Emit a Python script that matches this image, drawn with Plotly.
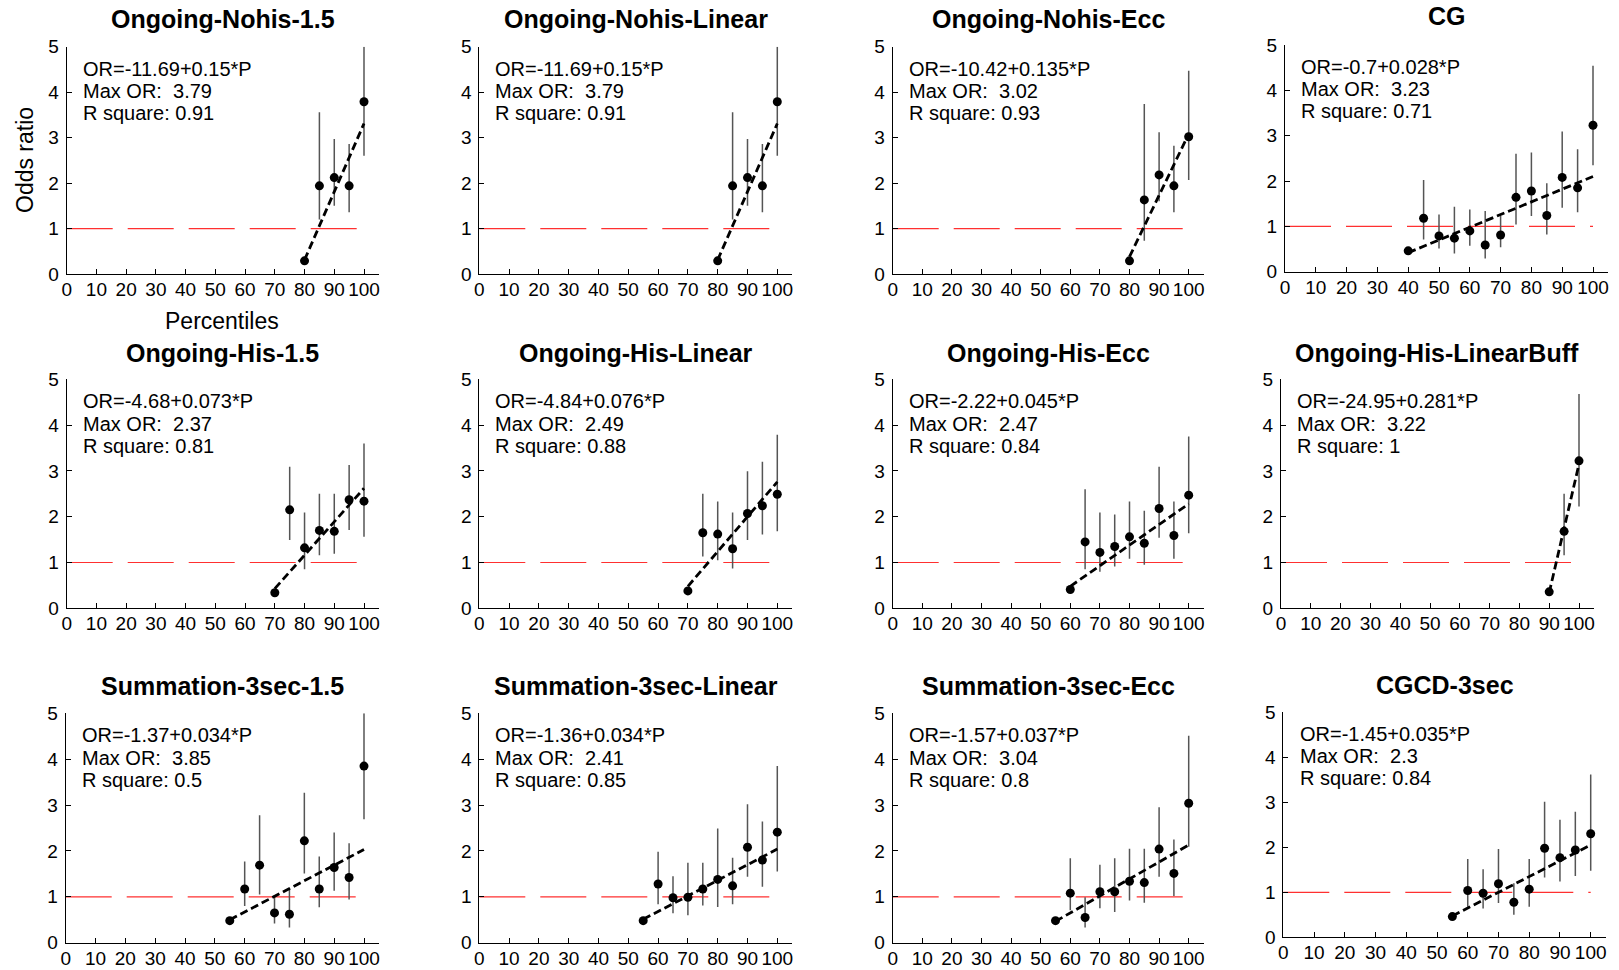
import plotly.graph_objects as go

FONT = "Liberation Sans, Arial, Helvetica, sans-serif"
W, H = 1619, 970

# ---------------- data ----------------
TITLES = [
    "Ongoing-Nohis-1.5", "Ongoing-Nohis-Linear", "Ongoing-Nohis-Ecc", "CG",
    "Ongoing-His-1.5", "Ongoing-His-Linear", "Ongoing-His-Ecc", "Ongoing-His-LinearBuff",
    "Summation-3sec-1.5", "Summation-3sec-Linear", "Summation-3sec-Ecc", "CGCD-3sec",
]

PCT_NOHIS = [80, 85, 90, 95, 100]
OR_NOHIS_15 = [0.29, 1.94, 2.12, 1.94, 3.79]
LO_NOHIS_15 = [None, 1.20, 1.50, 1.36, 2.60]
HI_NOHIS_15 = [None, 3.56, 2.97, 2.86, 5.00]

OR_NOHIS_LIN = [0.29, 1.94, 2.12, 1.94, 3.79]
LO_NOHIS_LIN = [None, 1.20, 1.50, 1.36, 2.60]
HI_NOHIS_LIN = [None, 3.56, 2.97, 2.86, 5.00]

OR_NOHIS_ECC = [0.29, 1.63, 2.18, 1.94, 3.02]
LO_NOHIS_ECC = [None, 0.73, 1.60, 1.36, 2.07]
HI_NOHIS_ECC = [None, 3.74, 3.12, 2.82, 4.47]

PCT_CG = [40, 45, 50, 55, 60, 65, 70, 75, 80, 85, 90, 95, 100]
OR_CG = [0.46, 1.18, 0.79, 0.74, 0.90, 0.59, 0.81, 1.64, 1.78, 1.24, 2.08, 1.85, 3.23]
LO_CG = [None, 0.71, 0.51, 0.40, 0.57, 0.29, 0.54, 1.04, 1.23, 0.82, 1.41, 1.31, 2.35]
HI_CG = [None, 2.02, 1.26, 1.43, 1.37, 1.34, 1.23, 2.60, 2.63, 1.95, 3.09, 2.70, 4.54]

PCT_HIS = [70, 75, 80, 85, 90, 95, 100]
OR_HIS_15 = [0.34, 2.15, 1.32, 1.70, 1.68, 2.37, 2.34]
LO_HIS_15 = [None, 1.49, 0.85, 1.16, 1.19, 1.71, 1.56]
HI_HIS_15 = [None, 3.09, 2.09, 2.50, 2.50, 3.13, 3.60]

OR_HIS_LIN = [0.38, 1.65, 1.62, 1.30, 2.07, 2.24, 2.49]
LO_HIS_LIN = [None, 1.13, 1.05, 0.87, 1.49, 1.61, 1.68]
HI_HIS_LIN = [None, 2.50, 2.33, 2.09, 2.99, 3.20, 3.79]

PCT_HIS_ECC = [60, 65, 70, 75, 80, 85, 90, 95, 100]
OR_HIS_ECC = [0.41, 1.45, 1.22, 1.35, 1.56, 1.42, 2.18, 1.59, 2.47]
LO_HIS_ECC = [None, 0.85, 0.80, 0.91, 1.08, 0.95, 1.54, 1.08, 1.64]
HI_HIS_ECC = [None, 2.60, 2.09, 2.05, 2.33, 2.13, 3.09, 2.33, 3.75]

PCT_HIS_BUFF = [90, 95, 100]
OR_HIS_BUFF = [0.36, 1.68, 3.22]
LO_HIS_BUFF = [None, 1.16, 2.22]
HI_HIS_BUFF = [None, 2.50, 4.68]

PCT_SUM = [55, 60, 65, 70, 75, 80, 85, 90, 95, 100]
OR_SUM_15 = [0.48, 1.17, 1.69, 0.65, 0.62, 2.22, 1.17, 1.64, 1.42, 3.85]
LO_SUM_15 = [None, 0.80, 1.05, 0.42, 0.33, 1.51, 0.77, 1.13, 0.94, 2.69]
HI_SUM_15 = [None, 1.77, 2.78, 1.04, 1.18, 3.27, 1.88, 2.40, 2.17, 5.00]

OR_SUM_LIN = [0.48, 1.28, 0.98, 0.99, 1.17, 1.38, 1.24, 2.08, 1.80, 2.41]
LO_SUM_LIN = [None, 0.84, 0.64, 0.60, 0.81, 0.78, 0.84, 1.44, 1.22, 1.55]
HI_SUM_LIN = [None, 1.98, 1.45, 1.74, 1.74, 2.49, 1.85, 3.02, 2.64, 3.85]

OR_SUM_ECC = [0.48, 1.08, 0.55, 1.11, 1.11, 1.34, 1.31, 2.04, 1.51, 3.04]
LO_SUM_ECC = [None, 0.71, 0.33, 0.75, 0.67, 0.92, 0.87, 1.44, 1.02, 2.09]
HI_SUM_ECC = [None, 1.84, 0.99, 1.70, 1.84, 2.05, 2.05, 2.95, 2.25, 4.51]

OR_CGCD = [0.46, 1.04, 0.98, 1.19, 0.78, 1.07, 1.98, 1.77, 1.94, 2.30]
LO_CGCD = [None, 0.68, 0.64, 0.76, 0.50, 0.68, 1.33, 1.24, 1.36, 1.48]
HI_CGCD = [None, 1.74, 1.51, 1.96, 1.20, 1.74, 3.01, 2.61, 2.79, 3.62]

# linear fit OR = a + b*P for each panel
INTERCEPT = [-11.69, -11.69, -10.42, -0.7, -4.68, -4.84, -2.22, -24.95, -1.37, -1.36, -1.57, -1.45]
SLOPE = [0.15, 0.15, 0.135, 0.028, 0.073, 0.076, 0.045, 0.281, 0.034, 0.034, 0.037, 0.035]
MAX_OR = [3.79, 3.79, 3.02, 3.23, 2.37, 2.49, 2.47, 3.22, 3.85, 2.41, 3.04, 2.3]
R_SQUARE = [0.91, 0.91, 0.93, 0.71, 0.81, 0.88, 0.84, 1, 0.5, 0.85, 0.8, 0.84]

X_TICKS = [0, 10, 20, 30, 40, 50, 60, 70, 80, 90, 100]
Y_TICKS = [0, 1, 2, 3, 4, 5]
REFERENCE_OR = 1

PANELS = [
    (PCT_NOHIS, OR_NOHIS_15, LO_NOHIS_15, HI_NOHIS_15),
    (PCT_NOHIS, OR_NOHIS_LIN, LO_NOHIS_LIN, HI_NOHIS_LIN),
    (PCT_NOHIS, OR_NOHIS_ECC, LO_NOHIS_ECC, HI_NOHIS_ECC),
    (PCT_CG, OR_CG, LO_CG, HI_CG),
    (PCT_HIS, OR_HIS_15, LO_HIS_15, HI_HIS_15),
    (PCT_HIS, OR_HIS_LIN, LO_HIS_LIN, HI_HIS_LIN),
    (PCT_HIS_ECC, OR_HIS_ECC, LO_HIS_ECC, HI_HIS_ECC),
    (PCT_HIS_BUFF, OR_HIS_BUFF, LO_HIS_BUFF, HI_HIS_BUFF),
    (PCT_SUM, OR_SUM_15, LO_SUM_15, HI_SUM_15),
    (PCT_SUM, OR_SUM_LIN, LO_SUM_LIN, HI_SUM_LIN),
    (PCT_SUM, OR_SUM_ECC, LO_SUM_ECC, HI_SUM_ECC),
    (PCT_SUM, OR_CGCD, LO_CGCD, HI_CGCD),
]

# ---------------- layout (pixel boxes: left, x=100 position, top, bottom) ----------------
BOXES = [
    (66.7, 364.0, 46.7, 274.0), (479.3, 777.3, 46.7, 274.0),
    (892.7, 1188.7, 46.7, 274.0), (1285.0, 1593.0, 45.0, 271.7),
    (66.7, 364.0, 379.3, 608.3), (479.3, 777.3, 379.3, 608.3),
    (892.7, 1188.7, 379.3, 608.3), (1281.0, 1579.0, 379.3, 608.3),
    (65.7, 364.0, 713.3, 942.7), (479.3, 777.3, 713.3, 942.7),
    (892.7, 1188.7, 713.3, 942.7), (1283.3, 1590.7, 712.3, 937.3),
]
TITLE_Y = [19, 19, 19, 16.3, 353, 353, 353, 353, 686, 686, 686, 684.7]
X_MAX = 105

fig = go.Figure()
annotations = []

for i, (pct, odds, lo, hi) in enumerate(PANELS):
    n = i + 1
    xa = "x" if n == 1 else f"x{n}"
    ya = "y" if n == 1 else f"y{n}"
    left, x100, top, bottom = BOXES[i]
    right = left + (x100 - left) * X_MAX / 100.0

    ax_common = dict(
        showline=True, linecolor="black", linewidth=1,
        ticks="inside", ticklen=5, tickwidth=1, tickcolor="black",
        showgrid=False, zeroline=False, fixedrange=True, automargin=False,
        tickfont=dict(family=FONT, size=19, color="black"),
    )
    fig.layout[f"xaxis{'' if n == 1 else n}"] = dict(
        ax_common, domain=[left / W, right / W], range=[0, X_MAX],
        tickvals=X_TICKS, anchor=ya, ticklabelstandoff=-2,
    )
    fig.layout[f"yaxis{'' if n == 1 else n}"] = dict(
        ax_common, domain=[1 - bottom / H, 1 - top / H], range=[0, 5],
        tickvals=Y_TICKS, anchor=xa, ticklabelstandoff=3,
    )

    # reference line OR = 1
    fig.add_trace(go.Scatter(
        x=[0, 100], y=[REFERENCE_OR, REFERENCE_OR], mode="lines",
        line=dict(color="#ff3030", width=1.2, dash="46px,15px"),
        xaxis=xa, yaxis=ya, hoverinfo="skip", showlegend=False,
    ))

    # confidence intervals
    ex, ey = [], []
    for p, l, h in zip(pct, lo, hi):
        if l is None or h is None:
            continue
        ex += [p, p, None]
        ey += [l, h, None]
    fig.add_trace(go.Scatter(
        x=ex, y=ey, mode="lines", line=dict(color="#555555", width=1.5),
        xaxis=xa, yaxis=ya, hoverinfo="skip", showlegend=False,
    ))

    # odds ratio points
    fig.add_trace(go.Scatter(
        x=pct, y=odds, mode="markers",
        marker=dict(color="black", size=9, line=dict(width=0)),
        xaxis=xa, yaxis=ya, showlegend=False,
    ))

    # fitted line
    a, b = INTERCEPT[i], SLOPE[i]
    fx = [min(pct), 100]
    fy = [a + b * v for v in fx]
    fig.add_trace(go.Scatter(
        x=fx, y=fy, mode="lines",
        line=dict(color="black", width=2.8, dash="8px,4px"),
        xaxis=xa, yaxis=ya, hoverinfo="skip", showlegend=False,
    ))

    # fit statistics
    lines = [
        f"OR={a:g}+{b:g}*P",
        f"Max OR:\u00a0\u00a0{MAX_OR[i]:g}",
        f"R square: {R_SQUARE[i]:g}",
    ]
    for txt, yv in zip(lines, [4.52, 4.03, 3.54]):
        annotations.append(dict(
            x=4.7, y=yv, xref=xa, yref=ya, text=txt, showarrow=False,
            xanchor="left", yanchor="middle",
            font=dict(family=FONT, size=20, color="black"),
        ))

    # panel title
    annotations.append(dict(
        x=(left + right) / 2 / W, y=1 - TITLE_Y[i] / H, xref="paper", yref="paper",
        text=f"<b>{TITLES[i]}</b>", showarrow=False, xanchor="center", yanchor="middle",
        font=dict(family=FONT, size=25, color="black"),
    ))

# axis labels on the first panel
annotations.append(dict(
    x=25 / W, y=1 - 160 / H, xref="paper", yref="paper", text="Odds ratio",
    textangle=-90, showarrow=False, xanchor="center", yanchor="middle",
    font=dict(family=FONT, size=23, color="black"),
))
annotations.append(dict(
    x=222 / W, y=1 - 321 / H, xref="paper", yref="paper", text="Percentiles",
    showarrow=False, xanchor="center", yanchor="middle",
    font=dict(family=FONT, size=23, color="black"),
))

fig.update_layout(
    width=W, height=H, margin=dict(l=0, r=0, t=0, b=0),
    paper_bgcolor="white", plot_bgcolor="white",
    annotations=annotations, showlegend=False,
)

fig.write_html("out.html", config={"displayModeBar": False})
